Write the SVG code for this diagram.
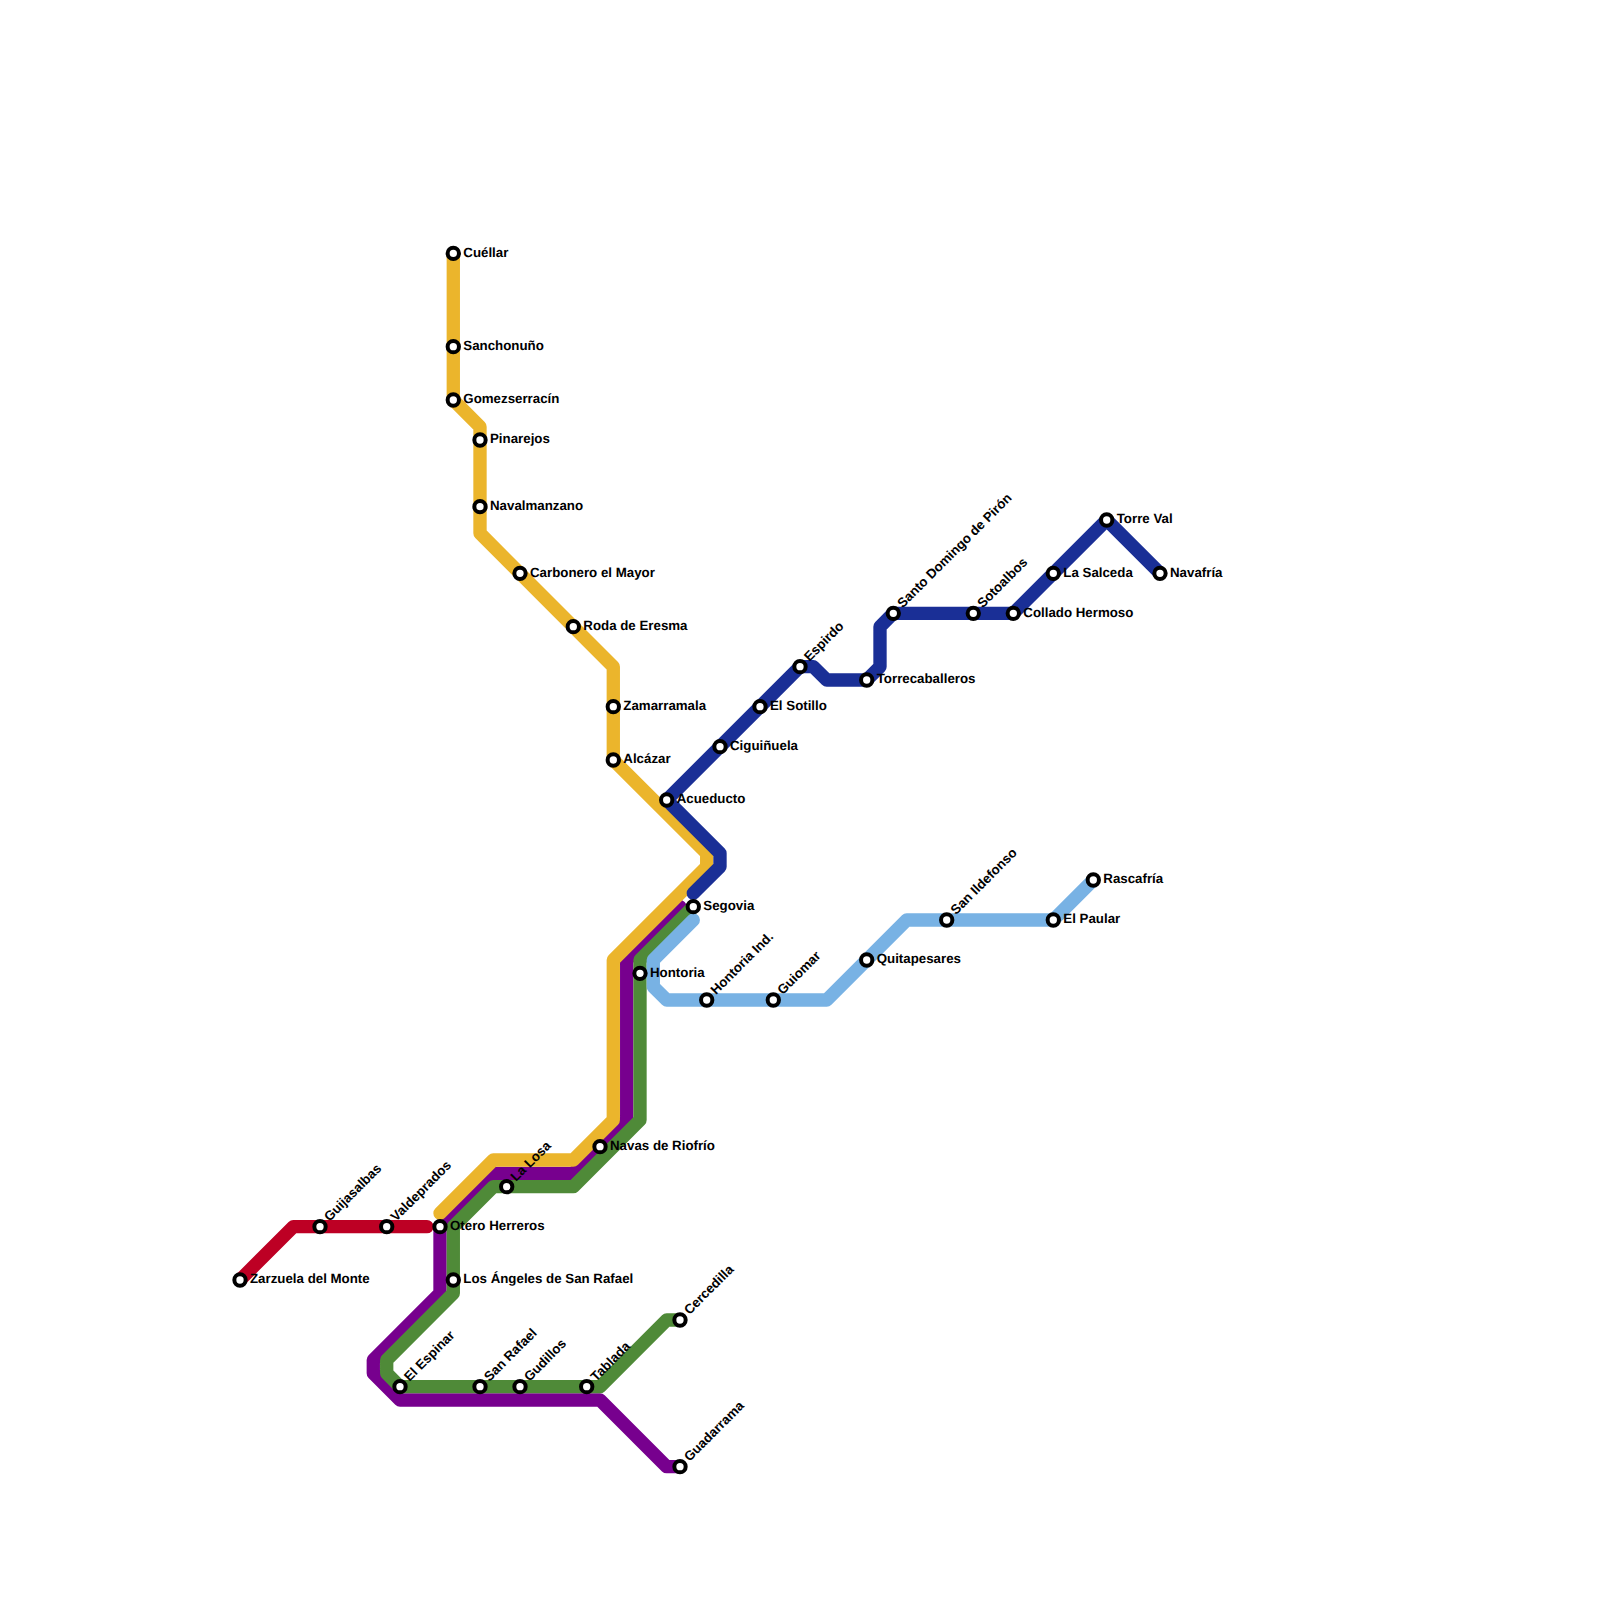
<svg xmlns="http://www.w3.org/2000/svg" width="1600" height="1600" viewBox="0 0 1600 1600">
<style>
.l{fill:none;stroke-width:13.33;stroke-linejoin:round;stroke-linecap:round}
.s{fill:#fff;stroke:#000;stroke-width:4}
text{font-family:"Liberation Sans",Arial,sans-serif;font-size:13.3px;font-weight:700;fill:#000;text-rendering:geometricPrecision}
</style>
<rect width="1600" height="1600" fill="#fff"/>
<g id="connectors">
<path id="line-red" class="l" stroke="#bd0024" d="M240 1280L293.300 1226.700H427"/>
<path id="line-purple" class="l" stroke="#77008e" d="M680 906.700L626.700 960V1120L573.300 1173.300H493.300L440 1226.700V1293.300L373.300 1360V1373.300L400 1400H600L666.700 1466.700H680"/>
<path id="line-yellow" class="l" stroke="#ebb52c" d="M453.300 253.300V400L480 426.700V533.300L613.300 666.700V760L706.700 853.300V866.700L613.300 960V1120L573.300 1160H493.300L440 1213.300"/>
<path id="line-green" class="l" stroke="#4f8a38" d="M693.300 906.700L640 960V1120L573.300 1186.700H493.300L453.300 1226.700V1293.300L386.700 1360V1373.300L400 1386.700H600L666.700 1320H680"/>
<path id="line-navy" class="l" stroke="#1a2f96" d="M693.300 893.300L720 866.700V853.300L666.700 800L800 666.700H813.300L826.700 680H866.700L880 666.700V626.700L893.300 613.300H1013.300L1106.700 520L1160 573.300"/>
<path id="line-blue" class="l" stroke="#78b2e4" d="M693.300 920L653.300 960V986.700L666.700 1000H826.700L906.700 920H1053.300L1093.300 880"/>
</g>
<defs>
<g id="st"><circle class="s" r="5.67"/></g>
</defs>
<g id="n-cuellar" transform="translate(453.300 253.300)"><use href="#st"/><text x="10" y="3.3">Cuéllar</text></g>
<g id="n-sanchonuno" transform="translate(453.300 346.700)"><use href="#st"/><text x="10" y="3.3">Sanchonuño</text></g>
<g id="n-gomezserracin" transform="translate(453.300 400)"><use href="#st"/><text x="10" y="3.3">Gomezserracín</text></g>
<g id="n-pinarejos" transform="translate(480 440)"><use href="#st"/><text x="10" y="3.3">Pinarejos</text></g>
<g id="n-navalmanzano" transform="translate(480 506.700)"><use href="#st"/><text x="10" y="3.3">Navalmanzano</text></g>
<g id="n-carbonero" transform="translate(520 573.300)"><use href="#st"/><text x="10" y="3.3">Carbonero el Mayor</text></g>
<g id="n-roda" transform="translate(573.300 626.700)"><use href="#st"/><text x="10" y="3.3">Roda de Eresma</text></g>
<g id="n-zamarramala" transform="translate(613.300 706.700)"><use href="#st"/><text x="10" y="3.3">Zamarramala</text></g>
<g id="n-alcazar" transform="translate(613.300 760)"><use href="#st"/><text x="10" y="3.3">Alcázar</text></g>
<g id="n-acueducto" transform="translate(666.700 800)"><use href="#st"/><text x="10" y="3.3">Acueducto</text></g>
<g id="n-ciguinuela" transform="translate(720 746.700)"><use href="#st"/><text x="10" y="3.3">Ciguiñuela</text></g>
<g id="n-sotillo" transform="translate(760 706.700)"><use href="#st"/><text x="10" y="3.3">El Sotillo</text></g>
<g id="n-espirdo" transform="translate(800 666.700)"><use href="#st"/><text x="10" y="3.3" transform="rotate(-45)">Espirdo</text></g>
<g id="n-torrecaballeros" transform="translate(866.700 680)"><use href="#st"/><text x="10" y="3.3">Torrecaballeros</text></g>
<g id="n-santo" transform="translate(893.300 613.300)"><use href="#st"/><text x="10" y="3.3" transform="rotate(-45)">Santo Domingo de Pirón</text></g>
<g id="n-sotoalbos" transform="translate(973.300 613.300)"><use href="#st"/><text x="10" y="3.3" transform="rotate(-45)">Sotoalbos</text></g>
<g id="n-collado" transform="translate(1013.300 613.300)"><use href="#st"/><text x="10" y="3.3">Collado Hermoso</text></g>
<g id="n-salceda" transform="translate(1053.300 573.300)"><use href="#st"/><text x="10" y="3.3">La Salceda</text></g>
<g id="n-torreval" transform="translate(1106.700 520)"><use href="#st"/><text x="10" y="3.3">Torre Val</text></g>
<g id="n-navafria" transform="translate(1160 573.300)"><use href="#st"/><text x="10" y="3.3">Navafría</text></g>
<g id="n-segovia" transform="translate(693.300 906.700)"><use href="#st"/><text x="10" y="3.3">Segovia</text></g>
<g id="n-hontoria" transform="translate(640 973.300)"><use href="#st"/><text x="10" y="3.3">Hontoria</text></g>
<g id="n-hontoriaind" transform="translate(706.700 1000)"><use href="#st"/><text x="10" y="3.3" transform="rotate(-45)">Hontoria Ind.</text></g>
<g id="n-guiomar" transform="translate(773.300 1000)"><use href="#st"/><text x="10" y="3.3" transform="rotate(-45)">Guiomar</text></g>
<g id="n-quitapesares" transform="translate(866.700 960)"><use href="#st"/><text x="10" y="3.3">Quitapesares</text></g>
<g id="n-ildefonso" transform="translate(946.700 920)"><use href="#st"/><text x="10" y="3.3" transform="rotate(-45)">San Ildefonso</text></g>
<g id="n-paular" transform="translate(1053.300 920)"><use href="#st"/><text x="10" y="3.3">El Paular</text></g>
<g id="n-rascafria" transform="translate(1093.300 880)"><use href="#st"/><text x="10" y="3.3">Rascafría</text></g>
<g id="n-navas" transform="translate(600 1146.700)"><use href="#st"/><text x="10" y="3.3">Navas de Riofrío</text></g>
<g id="n-losa" transform="translate(506.700 1186.700)"><use href="#st"/><text x="10" y="3.3" transform="rotate(-45)">La Losa</text></g>
<g id="n-otero" transform="translate(440 1226.700)"><use href="#st"/><text x="10" y="3.3">Otero Herreros</text></g>
<g id="n-angeles" transform="translate(453.300 1280)"><use href="#st"/><text x="10" y="3.3">Los Ángeles de San Rafael</text></g>
<g id="n-valdeprados" transform="translate(386.700 1226.700)"><use href="#st"/><text x="10" y="3.3" transform="rotate(-45)">Valdeprados</text></g>
<g id="n-guijasalbas" transform="translate(320 1226.700)"><use href="#st"/><text x="10" y="3.3" transform="rotate(-45)">Guijasalbas</text></g>
<g id="n-zarzuela" transform="translate(240 1280)"><use href="#st"/><text x="10" y="3.3">Zarzuela del Monte</text></g>
<g id="n-espinar" transform="translate(400 1386.700)"><use href="#st"/><text x="10" y="3.3" transform="rotate(-45)">El Espinar</text></g>
<g id="n-sanrafael" transform="translate(480 1386.700)"><use href="#st"/><text x="10" y="3.3" transform="rotate(-45)">San Rafael</text></g>
<g id="n-gudillos" transform="translate(520 1386.700)"><use href="#st"/><text x="10" y="3.3" transform="rotate(-45)">Gudillos</text></g>
<g id="n-tablada" transform="translate(586.700 1386.700)"><use href="#st"/><text x="10" y="3.3" transform="rotate(-45)">Tablada</text></g>
<g id="n-cercedilla" transform="translate(680 1320)"><use href="#st"/><text x="10" y="3.3" transform="rotate(-45)">Cercedilla</text></g>
<g id="n-guadarrama" transform="translate(680 1466.700)"><use href="#st"/><text x="10" y="3.3" transform="rotate(-45)">Guadarrama</text></g>
</svg>
